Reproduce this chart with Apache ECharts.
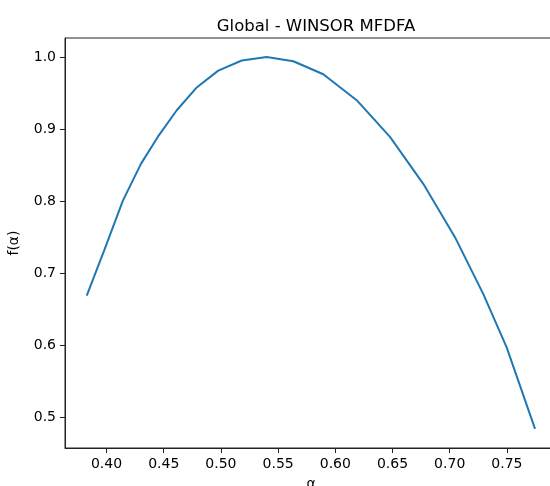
<!DOCTYPE html>
<html>
<head>
<meta charset="utf-8">
<script src="https://cdn.jsdelivr.net/npm/echarts@6/dist/echarts.min.js"></script>
<style>
  html, body { margin: 0; padding: 0; background: #fff; }
  #chart { width: 550px; height: 486px; }
</style>
</head>
<body>
<div id="chart"></div>
<script>
// singularity spectrum
const alphaVals = [0.3827, 0.3978, 0.4144, 0.4302, 0.4448, 0.4614, 0.4791, 0.4977, 0.5182, 0.5400,
  0.5633, 0.5895, 0.6187, 0.6478, 0.6769, 0.7046, 0.7294, 0.7498, 0.7746]
const fVals = [0.669, 0.731, 0.801, 0.852, 0.889, 0.926, 0.958, 0.981, 0.995, 1.0,
  0.994, 0.976, 0.940, 0.889, 0.824, 0.750, 0.671, 0.597, 0.484]
const xTicks = [0.40, 0.45, 0.50, 0.55, 0.60, 0.65, 0.70, 0.75]
const yTicks = [0.5, 0.6, 0.7, 0.8, 0.9, 1.0]

const font = 'DejaVu Sans'
const chart = echarts.init(document.getElementById('chart'))

const points = alphaVals.map((a, i) => [a, fVals[i]])

chart.setOption({
  animation: false,
  backgroundColor: '#fff',
  title: {
    text: 'Global - WINSOR MFDFA',
    left: 311,
    top: 13,
    textAlign: 'center',
    textStyle: { fontFamily: font, fontSize: 16.5, fontWeight: 'normal', color: '#000' },
  },
  grid: {
    left: 65,
    top: 38,
    width: 492,
    height: 410,
    show: true,
    borderColor: '#222',
    borderWidth: 1,
    containLabel: false,
    outerBoundsMode: 'none',
  },
  xAxis: {
    type: 'value',
    min: 0.3637,
    max: 0.7938,
    name: 'α',
    nameLocation: 'middle',
    nameGap: 29,
    nameTextStyle: { fontFamily: font, fontSize: 14, color: '#000' },
    splitLine: { show: false },
    axisLine: { lineStyle: { color: '#222', width: 1 } },
    axisTick: { customValues: xTicks, length: 5, lineStyle: { color: '#222' } },
    axisLabel: {
      customValues: xTicks,
      margin: 9,
      fontFamily: font,
      fontSize: 14,
      color: '#000',
      formatter: v => v.toFixed(2),
    },
  },
  yAxis: {
    type: 'value',
    min: 0.4575,
    max: 1.02625,
    name: 'f(α)',
    nameLocation: 'middle',
    nameGap: 44,
    nameRotate: 90,
    nameTextStyle: { fontFamily: font, fontSize: 14, color: '#000' },
    splitLine: { show: false },
    axisLine: { show: true, lineStyle: { color: '#222', width: 1 } },
    axisTick: { show: true, customValues: yTicks, length: 5, lineStyle: { color: '#222' } },
    axisLabel: {
      customValues: yTicks,
      margin: 9,
      fontFamily: font,
      fontSize: 14,
      color: '#000',
      formatter: v => v.toFixed(1),
    },
  },
  series: [
    {
      type: 'line',
      data: points,
      symbol: 'none',
      smooth: false,
      lineStyle: { color: '#1f77b4', width: 2 },
    },
  ],
})
</script>
</body>
</html>
